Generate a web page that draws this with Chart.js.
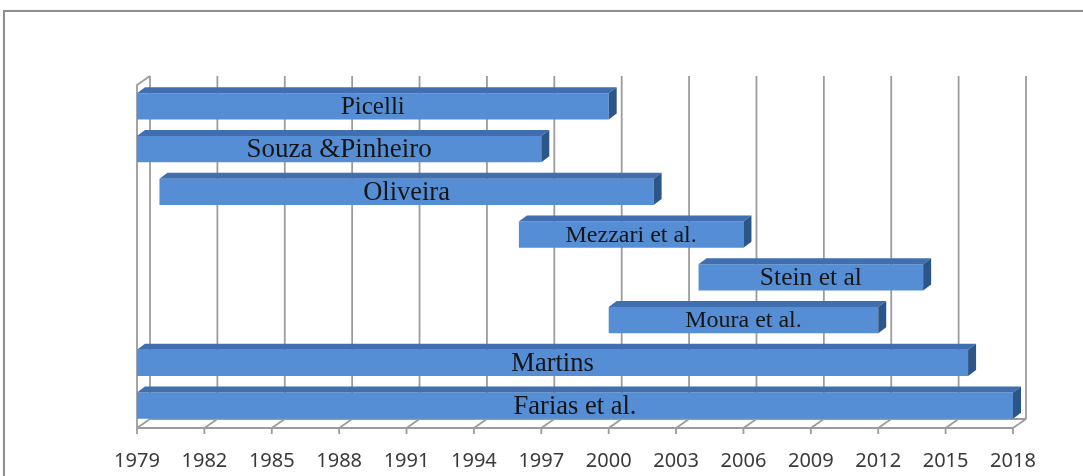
<!DOCTYPE html>
<html>
<head>
<meta charset="utf-8">
<script src="https://cdn.jsdelivr.net/npm/chart.js@4/dist/chart.umd.min.js"></script>
<style>
  html,body{margin:0;padding:0;background:#fff;overflow:hidden}
  #wrap{position:relative;width:1083px;height:476px}
  #frame{position:absolute;left:3px;top:10px;width:1200px;height:600px;border:2px solid #8e8e8e;box-shadow:1px 1px 2px #c8c8c8}
  #box{position:absolute;left:0;top:0;width:1083px;height:476px}
</style>
</head>
<body>
<div id="wrap">
  <div id="frame"></div>
  <div id="box"><canvas id="c"></canvas></div>
</div>
<script>
// Studies and the period each one covers
const authors = ['Picelli','Souza &Pinheiro','Oliveira','Mezzari et al.','Stein et al','Moura et al.','Martins','Farias et al.'];
const startYears = [1979,1979,1980,1996,2004,2000,1979,1979];
const endYears   = [2000,1997,2002,2006,2014,2012,2016,2018];
const tickYears = [1979,1982,1985,1988,1991,1994,1997,2000,2003,2006,2009,2012,2015,2018];
const labelSizes = [25,27,26.5,24,25.5,24,26.5,26.5];

const FRONT = '#558ed5', TOP = '#3f6fae', SIDE = '#2c5688', GRID = '#9c9c9c';
const BAR_DX = 8, BAR_DY = 6;     // bar depth
const WALL_DX = 13, WALL_DY = 9;  // back wall offset

const wallPlugin = {
  id:'wall',
  beforeDatasetsDraw(chart){
    const {ctx, chartArea:a, scales:{x}} = chart;
    const floorY = a.bottom + 1, backY = floorY - WALL_DY, topY = 76;
    const x0 = x.getPixelForValue(tickYears[0]);
    const x1 = x.getPixelForValue(tickYears[tickYears.length-1]);
    ctx.save();
    ctx.strokeStyle = GRID;
    ctx.lineWidth = 1.8;
    ctx.beginPath();
    tickYears.forEach(v=>{
      const px = x.getPixelForValue(v);
      // back wall line
      ctx.moveTo(px+WALL_DX, topY); ctx.lineTo(px+WALL_DX, backY);
      // floor slant + tick
      ctx.moveTo(px, floorY); ctx.lineTo(px+WALL_DX, backY);
      ctx.moveTo(px, floorY); ctx.lineTo(px, floorY+6);
    });
    // floor edges
    ctx.moveTo(x0, floorY); ctx.lineTo(x1, floorY);
    ctx.moveTo(x0+WALL_DX, backY); ctx.lineTo(x1+WALL_DX, backY);
    // left wall
    ctx.moveTo(x0, floorY); ctx.lineTo(x0, topY+WALL_DY);
    ctx.lineTo(x0+WALL_DX, topY);
    ctx.stroke();
    ctx.restore();
  },
  afterDatasetsDraw(chart){
    const {ctx} = chart;
    const meta = chart.getDatasetMeta(0);
    ctx.save();
    meta.data.forEach((bar,i)=>{
      const l = Math.min(bar.x, bar.base), r = Math.max(bar.x, bar.base);
      const t = bar.y - bar.height/2, b = bar.y + bar.height/2;
      // top face
      ctx.fillStyle = TOP;
      ctx.beginPath();
      ctx.moveTo(l, t); ctx.lineTo(l+BAR_DX, t-BAR_DY);
      ctx.lineTo(r+BAR_DX, t-BAR_DY); ctx.lineTo(r, t); ctx.closePath();
      ctx.fill();
      // side face
      ctx.fillStyle = SIDE;
      ctx.beginPath();
      ctx.moveTo(r, t); ctx.lineTo(r+BAR_DX, t-BAR_DY);
      ctx.lineTo(r+BAR_DX, b-BAR_DY); ctx.lineTo(r, b); ctx.closePath();
      ctx.fill();
      // label
      ctx.fillStyle = '#151515';
      ctx.font = labelSizes[i] + 'px "Liberation Serif", "Times New Roman", serif';
      ctx.textAlign = 'center';
      ctx.textBaseline = 'middle';
      ctx.fillText(authors[i], (l+r)/2, bar.y + 1);
    });
    ctx.restore();
  }
};

new Chart(document.getElementById('c'), {
  type:'bar',
  data:{
    labels: authors,
    datasets:[{
      data: startYears.map((s,i)=>[s, endYears[i]]),
      backgroundColor: FRONT,
      borderWidth: 0,
      barPercentage: 0.61,
      categoryPercentage: 1
    }]
  },
  options:{
    indexAxis:'y',
    responsive:true,
    maintainAspectRatio:false,
    animation:false,
    layout:{padding:{left:137, right:70, top:85, bottom:5}},
    plugins:{legend:{display:false}, tooltip:{enabled:false}},
    scales:{
      x:{
        type:'linear',
        min:1979, max:2018,
        afterBuildTicks: s => { s.ticks = tickYears.map(v=>({value:v})); },
        afterFit: s => { s.height = 44; },
        grid:{display:false, drawTicks:false},
        border:{display:false},
        ticks:{
          padding:22,
          maxRotation:0,
          autoSkip:false,
          color:'#3a3a3a',
          font:{family:'"Noto Sans", sans-serif', size:20},
          callback: v => String(v)
        }
      },
      y:{display:false}
    }
  },
  plugins:[wallPlugin]
});
</script>
</body>
</html>
